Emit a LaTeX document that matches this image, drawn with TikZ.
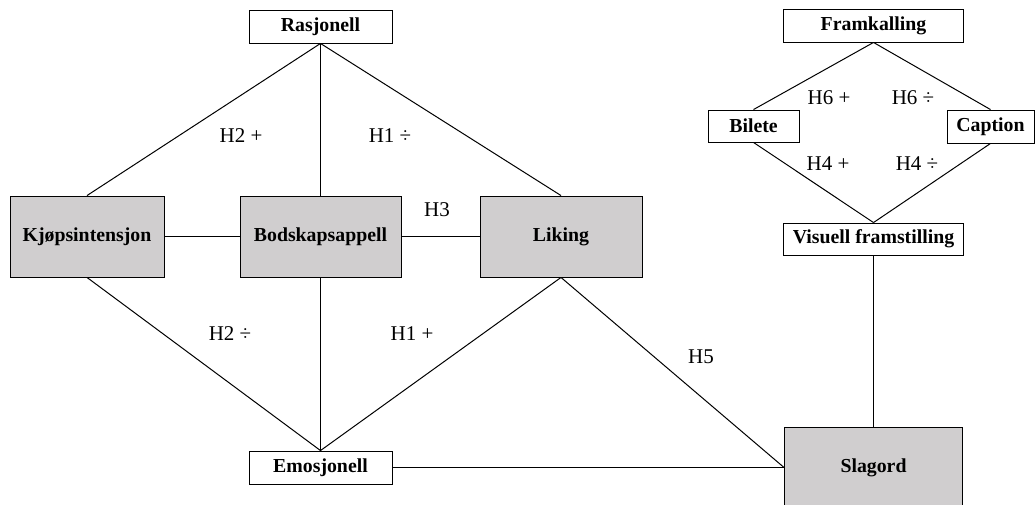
\documentclass[tikz,border=0pt]{standalone}
\usepackage{fontspec}
\setmainfont{Liberation Serif}
\begin{document}
\begin{tikzpicture}[x=1pt,y=-1pt,
  box/.style={draw=black,line width=0.9pt,inner sep=0pt,font=\fontsize{19.8pt}{22pt}\selectfont\bfseries},
  grey/.style={box,fill=boxgrey},
  lbl/.style={font=\fontsize{21pt}{22pt}\selectfont,inner sep=0pt},
  link/.style={draw=black,line width=1pt}]
\definecolor{boxgrey}{RGB}{208,206,207}
\clip (0,0) rectangle (1035,504);
\fill[white] (0,0) rectangle (1035,504);
% nodes
\node[box,minimum width=143pt,minimum height=33pt] (ras) at (320.5,26.5) {Rasjonell};
\node[grey,minimum width=154pt,minimum height=81pt] (kjop) at (87,236.5) {Kjøpsintensjon};
\node[grey,minimum width=161pt,minimum height=81pt] (bod) at (320.5,236.5) {Bodskapsappell};
\node[grey,minimum width=162pt,minimum height=81pt] (lik) at (561,236.5) {Liking};
\node[box,minimum width=143pt,minimum height=33pt] (emo) at (320.5,467.5) {Emosjonell};
\node[grey,minimum width=178pt,minimum height=81pt] (slag) at (873.5,467.5) {Slagord};
\node[box,minimum width=180pt,minimum height=33pt] (fram) at (873.5,25.5) {Framkalling};
\node[box,minimum width=91pt,minimum height=32pt] (bil) at (753.5,126) {Bilete};
\node[box,minimum width=87pt,minimum height=33pt] (cap) at (990.5,126.5) {Caption};
\node[box,minimum width=180pt,minimum height=32pt] (vis) at (873.5,239) {Visuell framstilling};
% connectors
\draw[link] (ras.south) -- (kjop.north);
\draw[link] (ras.south) -- (bod.north);
\draw[link] (ras.south) -- (lik.north);
\draw[link] (kjop.east) -- (bod.west);
\draw[link] (bod.east) -- (lik.west);
\draw[link] (kjop.south) -- (emo.north);
\draw[link] (bod.south) -- (emo.north);
\draw[link] (lik.south) -- (emo.north);
\draw[link] (emo.east) -- (slag.west);
\draw[link] (lik.south) -- (slag.west);
\draw[link] (vis.south) -- (slag.north);
\draw[link] (fram.south) -- (bil.north);
\draw[link] (fram.south) -- (cap.north);
\draw[link] (bil.south) -- (vis.north);
\draw[link] (cap.south) -- (vis.north);
% labels
\node[lbl] (l1) at (241,136) {H2 +};
\node[lbl] (l2) at (390,136) {H1 ÷};
\node[lbl] (l3) at (437,210) {H3};
\node[lbl] (l4) at (230,334) {H2 ÷};
\node[lbl] (l5) at (412,334) {H1 +};
\node[lbl] (l6) at (701,357) {H5};
\node[lbl] (l7) at (829,98) {H6 +};
\node[lbl] (l8) at (913,98) {H6 ÷};
\node[lbl] (l9) at (828,164) {H4 +};
\node[lbl] (l10) at (917,164) {H4 ÷};
\end{tikzpicture}
\end{document}
